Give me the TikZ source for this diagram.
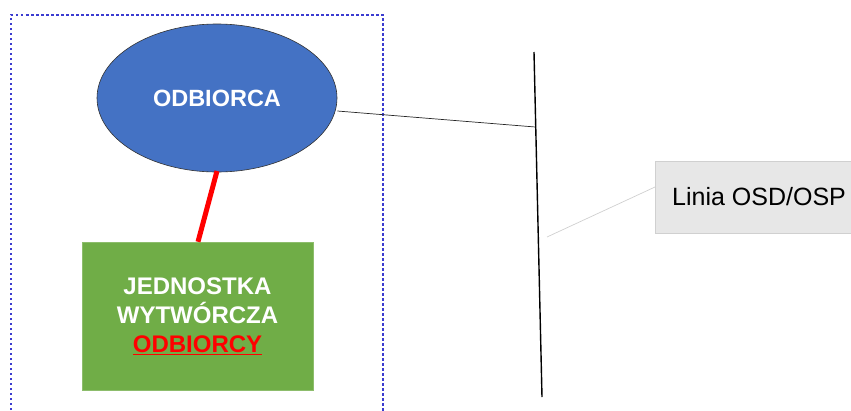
\documentclass[tikz,border=0pt]{standalone}
\usepackage{fontspec}
\setmainfont{Liberation Sans}
\usetikzlibrary{shapes.geometric}
\definecolor{boxblue}{HTML}{3C3CD0}
\definecolor{ellblue}{HTML}{4472C4}
\definecolor{gengreen}{HTML}{70AD47}
\definecolor{lblgray}{HTML}{E7E7E7}
\definecolor{lblborder}{HTML}{D0D0D0}
\tikzset{
  consumer/.style={ellipse, draw=black!80, line width=0.6pt, fill=ellblue, minimum width=240pt, minimum height=148pt, inner sep=0pt, text=white, font=\fontsize{23.5}{28}\selectfont\bfseries},
  genbox/.style={rectangle, draw=gengreen!80!white, fill=gengreen, minimum width=231pt, minimum height=148pt, inner sep=0pt, text=white, align=center, font=\fontsize{24}{29}\selectfont\bfseries},
  lblbox/.style={rectangle, draw=lblborder, fill=lblgray, minimum height=72pt, inner xsep=17pt, inner ysep=0pt, font=\fontsize{25}{28}\selectfont, anchor=west},
  zone/.style={draw=boxblue, line width=2.6pt, dash pattern=on 2.5pt off 2.5pt},
}
\begin{document}
\begin{tikzpicture}[x=1pt,y=-1pt]
\useasboundingbox (0,0) rectangle (851,410);
\draw[zone] (11,420) -- (11,15) -- (383,15) -- (383,420);
\node[consumer] (odb) at (217,98) {ODBIORCA};
\node[genbox] (gen) at (197.5,316) {JEDNOSTKA\\WYTWÓRCZA\\\textcolor{red}{\underline{ODBIORCY}}};
\coordinate (ltop) at (534,52);
\coordinate (lbot) at (542,397);
\draw[line width=1.4pt, black] (ltop) -- (lbot);
\coordinate (tap) at (535.3,127);
\draw[line width=0.7pt, black!85] (odb.east |- 0,111) -- (tap);
\draw[red, line width=5pt] (217,171) -- (gen.north -| 198,0);
\node[lblbox] (lbl) at (655,197) {Linia OSD/OSP};
\coordinate (cpt) at (547,237);
\draw[lblborder, line width=0.7pt] (lbl.west |- 0,187) -- (cpt);
\end{tikzpicture}
\end{document}
